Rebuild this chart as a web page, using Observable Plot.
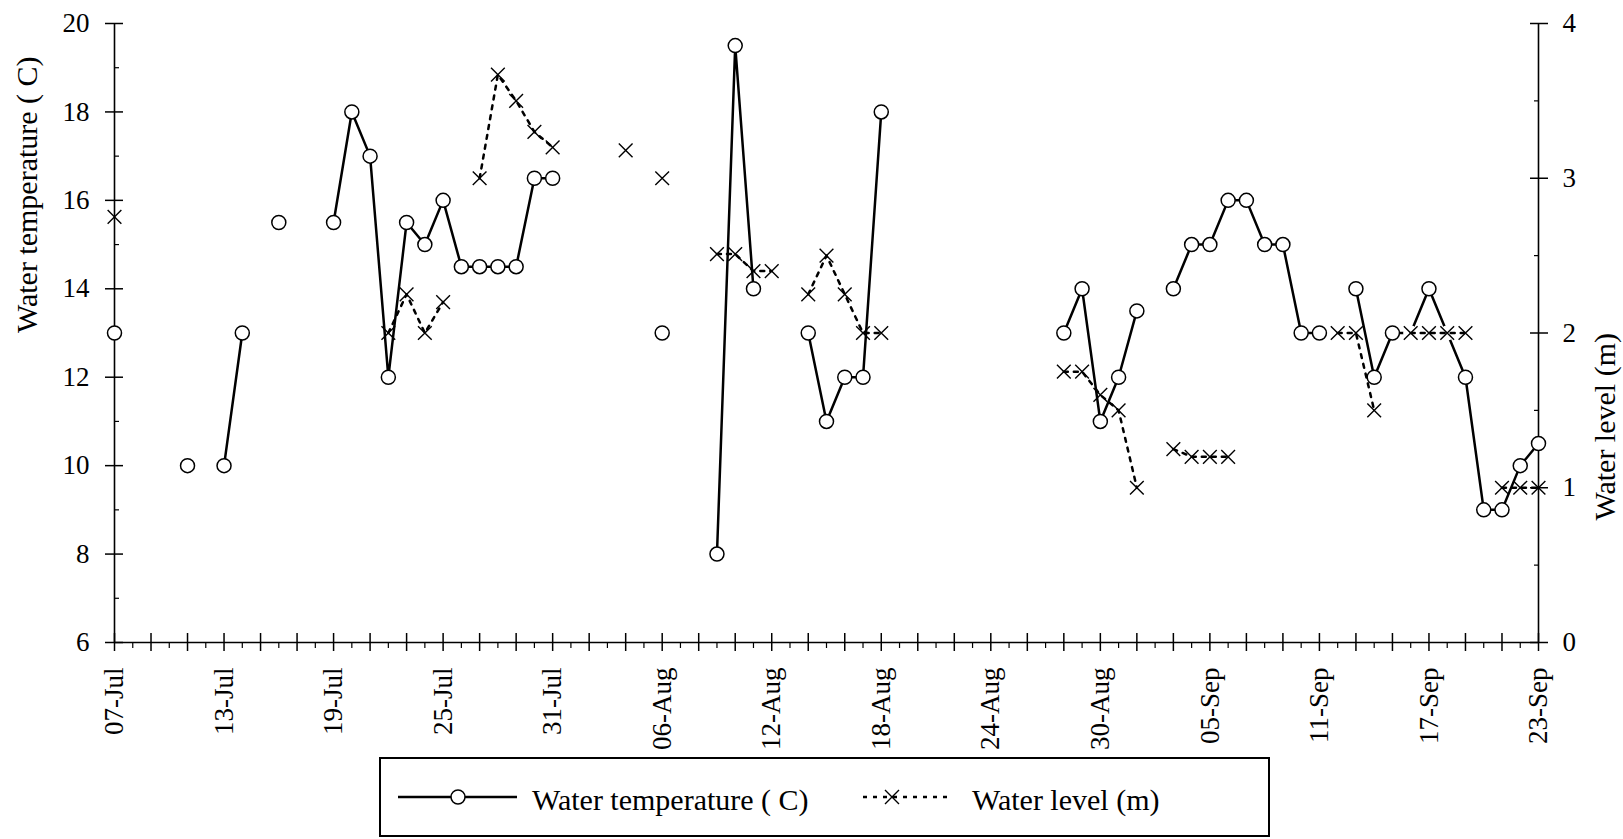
<!DOCTYPE html>
<html>
<head>
<meta charset="utf-8">
<script src="https://cdn.jsdelivr.net/npm/d3@7"></script>
<script src="https://cdn.jsdelivr.net/npm/@observablehq/plot@0.6"></script>
<style>
html, body { margin: 0; padding: 0; background: #fff; }
#wrap { position: relative; width: 1623px; height: 839px; overflow: hidden; font-family: "Liberation Serif", "DejaVu Serif", "Noto Serif", serif; }
#wrap svg, #wrap svg text { font-family: "Liberation Serif", "DejaVu Serif", "Noto Serif", serif !important; }
#legend { position: absolute; left: 379px; top: 757px; width: 891px; height: 80px; border: 2px solid #000; box-sizing: border-box; background: #fff; }
#legend text { font-size: 30px; }
</style>
</head>
<body>
<div id="wrap"><div id="chart"></div><div id="legend"></div></div>
<script>
// ---- Data ----
const tempDates = ["07-Jul","11-Jul","13-Jul","14-Jul","16-Jul","19-Jul","20-Jul","21-Jul","22-Jul","23-Jul","24-Jul","25-Jul","26-Jul","27-Jul","28-Jul","29-Jul","30-Jul","31-Jul",
  "06-Aug","09-Aug","10-Aug","11-Aug","14-Aug","15-Aug","16-Aug","17-Aug","18-Aug","28-Aug","29-Aug","30-Aug","31-Aug",
  "01-Sep","03-Sep","04-Sep","05-Sep","06-Sep","07-Sep","08-Sep","09-Sep","10-Sep","11-Sep","13-Sep","14-Sep","15-Sep","16-Sep","17-Sep","18-Sep","19-Sep","20-Sep","21-Sep","22-Sep","23-Sep"];
const tempValues = [13,10,10,13,15.5,15.5,18,17,12,15.5,15,16,14.5,14.5,14.5,14.5,16.5,16.5,
  13,8,19.5,14,13,11,12,12,18,13,14,11,12,
  13.5,14,15,15,16,16,15,15,13,13,14,12,13,13,14,13,12,9,9,10,10.5];

const levelDates = ["07-Jul","22-Jul","23-Jul","24-Jul","25-Jul","27-Jul","28-Jul","29-Jul","30-Jul","31-Jul",
  "04-Aug","06-Aug","09-Aug","10-Aug","11-Aug","12-Aug","14-Aug","15-Aug","16-Aug","17-Aug","18-Aug","28-Aug","29-Aug","30-Aug","31-Aug",
  "01-Sep","03-Sep","04-Sep","05-Sep","06-Sep","12-Sep","13-Sep","14-Sep","16-Sep","17-Sep","18-Sep","19-Sep","21-Sep","22-Sep","23-Sep"];
const levelValues = [2.75,2.0,2.25,2.0,2.2,3.0,3.67,3.5,3.3,3.2,
  3.18,3.0,2.51,2.51,2.4,2.4,2.25,2.5,2.25,2.0,2.0,1.75,1.75,1.6,1.5,
  1.0,1.25,1.2,1.2,1.2,2.0,2.0,1.5,2.0,2.0,2.0,2.0,1.0,1.0,1.0];

const xTickLabels = ["07-Jul","13-Jul","19-Jul","25-Jul","31-Jul","06-Aug","12-Aug","18-Aug","24-Aug","30-Aug","05-Sep","11-Sep","17-Sep","23-Sep"];
const tempTicks = [6,8,10,12,14,16,18,20];
const levelTicks = [0,1,2,3,4];
const seriesNames = ["Water temperature ( C)", "Water level (m)"];
const axisTitles = ["Water temperature ( C)", "Water level (m)"];

// ---- Helpers ----
const FONT = '"Liberation Serif", "DejaVu Serif", "Noto Serif", serif';
const parse = d3.utcParse("%d-%b");
const fmt = d3.utcFormat("%d-%b");
const tMin = tempTicks[0], tMax = tempTicks[tempTicks.length - 1];
const lMax = levelTicks[levelTicks.length - 1];
const k = (tMax - tMin) / lMax;               // level -> temperature axis mapping
const toT = v => tMin + v * k;

function rows(dates, values) {
  let seg = 0, prev = null;
  return dates.map((s, i) => {
    const date = parse(s);
    if (prev && d3.utcDay.count(prev, date) > 1) seg++;
    prev = date;
    return {date, key: s, value: values[i], seg};
  });
}
const temp = rows(tempDates, tempValues);
const level = rows(levelDates, levelValues);
// where a level marker sits exactly on a temperature point, the circle outline is covered
const levelAt = new Map(level.map(d => [d.key, toT(d.value)]));
temp.forEach(d => { d.covered = levelAt.has(d.key) && Math.abs(levelAt.get(d.key) - d.value) < 1e-9; });

const start = parse(xTickLabels[0]);
const end = parse(xTickLabels[xTickLabels.length - 1]);
const days = d3.utcDay.range(start, d3.utcDay.offset(end, 1));
const majorDays = days.filter((d, i) => i % 2 === 0);
const minorDays = days.filter((d, i) => i % 2 === 1);
const tempMinor = tempTicks.slice(0, -1).map(t => t + 1);
const levelMinor = levelTicks.slice(0, -1).map(t => toT(t + 0.5));
const levelMajor = levelTicks.map(toT);

const chart = Plot.plot({
  width: 1623,
  height: 757,
  marginLeft: 114,
  marginRight: 85,
  marginTop: 23,
  marginBottom: 115,
  style: {fontFamily: FONT, fontSize: "27px", color: "black", background: "white", overflow: "visible"},
  x: {type: "utc", domain: [start, end]},
  y: {domain: [tMin, tMax]},
  marks: [
    // axis lines
    Plot.ruleY([tMin], {stroke: "black", strokeWidth: 1.6}),
    Plot.ruleX([start], {stroke: "black", strokeWidth: 1.6}),
    Plot.ruleX([end], {stroke: "black", strokeWidth: 1.6}),
    // left axis
    Plot.axisY(tempTicks, {anchor: "left", tickSize: 18, dx: 9, fill: "none", stroke: "black", strokeWidth: 1.5, label: null}),
    Plot.axisY(tempMinor, {anchor: "left", tickSize: 5, dx: 5, fill: "none", stroke: "black", strokeWidth: 1.2, label: null}),
    Plot.axisY(tempTicks, {anchor: "left", tickSize: 0, tickPadding: 25, stroke: "none", fill: "black", label: null, fontFamily: FONT}),
    // right axis (water level)
    Plot.axisY(levelMajor, {anchor: "right", tickSize: 18, dx: -9, fill: "none", stroke: "black", strokeWidth: 1.5, label: null}),
    Plot.axisY(levelMinor, {anchor: "right", tickSize: 5, dx: -5, fill: "none", stroke: "black", strokeWidth: 1.2, label: null}),
    Plot.axisY(levelMajor, {anchor: "right", tickSize: 0, tickPadding: 24, stroke: "none", fill: "black", label: null, fontFamily: FONT,
      tickFormat: t => String(Math.round((t - tMin) / k))}),
    // bottom axis
    Plot.axisX(majorDays, {anchor: "bottom", tickSize: 18, dy: -9, fill: "none", stroke: "black", strokeWidth: 1.5, label: null}),
    Plot.axisX(minorDays, {anchor: "bottom", tickSize: 6, fill: "none", stroke: "black", strokeWidth: 1.2, label: null}),
    Plot.axisX(xTickLabels.map(parse), {anchor: "bottom", tickSize: 0, tickPadding: 25, tickRotate: -90, tickFormat: fmt, stroke: "none", fill: "black", label: null, fontFamily: FONT}),
    // axis titles
    Plot.text([axisTitles[0]], {text: d => d, frameAnchor: "left", dx: -87, rotate: -90, fontSize: 30, fontFamily: FONT, fill: "black"}),
    Plot.text([axisTitles[1]], {text: d => d, frameAnchor: "right", dx: 67, rotate: -90, fontSize: 30, fontFamily: FONT, fill: "black"}),
    // temperature series
    Plot.line(temp, {x: "date", y: "value", z: "seg", stroke: "black", strokeWidth: 2.5}),
    Plot.dot(temp, {filter: d => !d.covered, x: "date", y: "value", r: 7, fill: "white", stroke: "black", strokeWidth: 1.5}),
    Plot.dot(temp, {filter: d => d.covered, x: "date", y: "value", r: 7.6, fill: "white", stroke: "none"}),
    // water level series
    Plot.line(level, {x: "date", y: d => toT(d.value), z: "seg", stroke: "black", strokeWidth: 2.5, strokeDasharray: "4,6"}),
    Plot.dot(level, {x: "date", y: d => toT(d.value), symbol: "times", r: 6.3, stroke: "black", strokeWidth: 1.4})
  ]
});
document.getElementById("chart").appendChild(chart);

// ---- Legend ----
document.getElementById("legend").innerHTML =
  `<svg width="887" height="76" style="display:block">
    <line x1="17" y1="38" x2="136" y2="38" stroke="black" stroke-width="2.5"/>
    <circle cx="77" cy="38" r="7" fill="white" stroke="black" stroke-width="1.5"/>
    <text x="151" y="51" fill="black">${seriesNames[0]}</text>
    <line x1="482" y1="38" x2="569" y2="38" stroke="black" stroke-width="2.5" stroke-dasharray="4,6"/>
    <path d="M504,31L518,45M518,31L504,45" stroke="black" stroke-width="1.4" fill="none"/>
    <text x="591" y="51" fill="black">${seriesNames[1]}</text>
  </svg>`;
</script>
</body>
</html>
